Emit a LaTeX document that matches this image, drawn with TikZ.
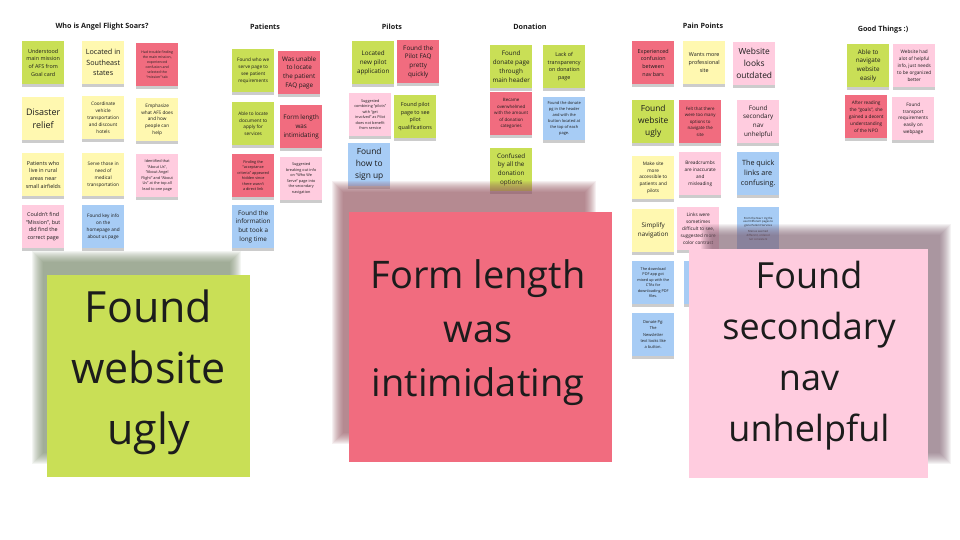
\documentclass[tikz,border=0pt]{standalone}
\usepackage{fontspec}
\setmainfont{Open Sans}
\usetikzlibrary{shadows}

\definecolor{ink}{HTML}{1C1C1C}
\definecolor{notegreen}{HTML}{C9DF56}
\definecolor{noteyellow}{HTML}{FFF8B0}
\definecolor{notered}{HTML}{F16C7F}
\definecolor{notepink}{HTML}{FFCCDF}
\definecolor{noteblue}{HTML}{A7CCF5}
\definecolor{greenshade}{HTML}{6F8160}
\definecolor{redshade}{HTML}{8E4A57}
\definecolor{pinkshade}{HTML}{7E5C6C}

\begin{document}
\begin{tikzpicture}[x=1pt, y=-1pt,
    note/.style={anchor=north west, minimum width=42pt, minimum height=43pt, inner sep=1pt, align=center, text=ink,
      drop shadow={shadow xshift=0pt, shadow yshift=-2.5pt, fill=black, opacity=0.2}},
    green note/.style={note, fill=notegreen},
    yellow note/.style={note, fill=noteyellow},
    red note/.style={note, fill=notered},
    pink note/.style={note, fill=notepink},
    blue note/.style={note, fill=noteblue},
    micro text/.style={font=\fontsize{2.8}{3.9}\selectfont},
    tiny text/.style={font=\fontsize{3.8}{5.5}\selectfont},
    smaller text/.style={font=\fontsize{4.7}{6.8}\selectfont},
    small text/.style={font=\fontsize{5.4}{7.6}\selectfont},
    mid text/.style={font=\fontsize{6.3}{8.8}\selectfont},
    large text/.style={font=\fontsize{7.2}{10.4}\selectfont},
    huge text/.style={font=\fontsize{8.4}{12}\selectfont},
    heading/.style={font=\fontsize{7.2}{9}\selectfont\bfseries, text=ink},
    big note/.style={anchor=north west, inner sep=0pt},
    big text/.style={align=center, text=ink, inner sep=0pt}]
    \useasboundingbox[fill=white] (0, 0) rectangle (960, 540);

    % headings
    \node[heading] (who heading) at (102, 27) {Who is Angel Flight Soars?};
    \node[heading] (patients heading) at (265, 27) {Patients};
    \node[heading] (pilots heading) at (392, 27) {Pilots};
    \node[heading] (donation heading) at (530, 27) {Donation};
    \node[heading] (pain heading) at (703, 26) {Pain Points};
    \node[heading] (good heading) at (883, 30) {Good Things :)};

    % who is angel flight soars
    \node[green note, small text] (main mission) at (22, 41) {Understood \\ main mission \\ of AFS from \\ Goal card};
    \node[yellow note, large text] (southeast) at (82, 41) {Located in \\ Southeast \\ states};
    \node[red note, micro text, font=\fontsize{3.5}{5}\selectfont] (mission tab) at (136, 43) {Had trouble finding \\ the main mission, \\ experienced \\ confusion and \\ selected the \\ ``mission'' tab};
    \node[yellow note, huge text, font=\fontsize{9}{12.3}\selectfont] (disaster relief) at (22, 97) {Disaster \\ relief};
    \node[yellow note, smaller text] (coordinate) at (82, 96) {Coordinate \\ vehicle \\ transportation \\ and discount \\ hotels};
    \node[yellow note, smaller text] (emphasize) at (136, 98) {Emphasize \\ what AFS does \\ and how \\ people can \\ help};
    \node[yellow note, small text] (rural areas) at (22, 153) {Patients who \\ live in rural \\ areas near \\ small airfields};
    \node[yellow note, smaller text] (serve those) at (82, 153) {Serve those in \\ need of \\ medical \\ transportation};
    \node[pink note, tiny text] (about us) at (136, 154) {Identified that \\ ``About Us'', \\ ``About Angel \\ Flight'' and ``About \\ Us'' at the top all \\ lead to one page};
    \node[pink note, small text] (couldnt find) at (22, 205) {Couldn't find \\ ``Mission'', but \\ did find the \\ correct page};
    \node[blue note, smaller text] (key info) at (82, 205) {Found key info \\ on the \\ homepage and \\ about us page};

    % patients
    \node[green note, smaller text] (who we serve) at (232, 49) {Found who we \\ serve page to \\ see patient \\ requirements};
    \node[red note, mid text] (patient faq) at (278, 51) {Was unable \\ to locate \\ the patient \\ FAQ page};
    \node[green note, smaller text] (apply document) at (232, 102) {Able to locate \\ document to \\ apply for \\ services};
    \node[red note, mid text] (form length) at (280, 105) {Form length \\ was \\ intimidating};
    \node[red note, tiny text] (acceptance) at (232, 154) {Finding the \\ ``acceptance \\ criteria'' appeared \\ hidden since \\ there wasn't \\ a direct link};
    \node[pink note, tiny text] (breaking out) at (280, 157) {Suggested \\ breaking out info \\ on ``Who We \\ Serve'' page into \\ the secondary \\ navigation};
    \node[blue note, mid text] (long time) at (232, 205) {Found the \\ information \\ but took a \\ long time};

    % pilots
    \node[green note, mid text] (pilot application) at (352, 41) {Located \\ new pilot \\ application};
    \node[red note, mid text] (pilot faq) at (397, 40) {Found the \\ Pilot FAQ \\ pretty \\ quickly};
    \node[pink note, tiny text] (combining) at (349, 93) {Suggested \\ combining ``pilots'' \\ with ``get \\ involved'' as Pilot \\ does not benefit \\ from service};
    \node[green note, small text] (qualifications) at (394, 95) {Found pilot \\ page to see \\ pilot \\ qualifications};
    \node[blue note, huge text] (sign up) at (348, 143) {Found \\ how to \\ sign up};

    % donation
    \node[green note, mid text] (main header) at (490, 45) {Found \\ donate page \\ through \\ main header};
    \node[green note, small text] (transparency) at (543, 45) {Lack of \\ transparency \\ on donation \\ page};
    \node[red note, smaller text, font=\fontsize{4.4}{6.6}\selectfont] (overwhelmed) at (490, 92) {Became \\ overwhelmed \\ with the amount \\ of donation \\ categories};
    \node[blue note, tiny text, font=\fontsize{4}{5.9}\selectfont] (donate button) at (543, 97) {Found the donate \\ pg in the header \\ and with the \\ button located at \\ the top of each \\ page.};
    \node[green note, mid text] (donation options) at (490, 148) {Confused \\ by all the \\ donation \\ options};

    % pain points
    \node[red note, small text] (nav bars) at (632, 41) {Experienced \\ confusion \\ between \\ nav bars};
    \node[yellow note, small text] (professional) at (683, 41) {Wants more \\ professional \\ site};
    \node[pink note, huge text] (outdated) at (733, 42) {Website \\ looks \\ outdated};
    \node[green note, huge text] (ugly small) at (632, 100) {Found \\ website \\ ugly};
    \node[red note, smaller text, font=\fontsize{4.4}{6.6}\selectfont] (too many) at (679, 100) {Felt that there \\ were too many \\ options to \\ navigate the \\ site};
    \node[pink note, mid text] (secondary small) at (737, 100) {Found \\ secondary \\ nav \\ unhelpful};
    \node[yellow note, smaller text] (accessible) at (632, 156) {Make site \\ more \\ accessible to \\ patients and \\ pilots};
    \node[pink note, smaller text] (breadcrumbs) at (679, 152) {Breadcrumbs \\ are inaccurate \\ and \\ misleading};
    \node[blue note, large text] (quick links) at (737, 152) {The quick \\ links are \\ confusing.};
    \node[yellow note, mid text] (simplify) at (632, 209) {Simplify \\ navigation};
    \node[pink note, smaller text] (contrast) at (677, 207) {Links were \\ sometimes \\ difficult to see, \\ suggested more \\ color contrast};
    \node[blue note, micro text] (nav pages) at (737, 207) {From the Nav / Ug the \\ user Different pages to \\ gone Patient Services \\[2pt] Menus seemed \\ different, ordered \\ not consistent};
    \node[blue note, tiny text] (download pdf) at (632, 261) {The download \\ PDF app got \\ mixed up with the \\ CTAs for \\ downloading PDF \\ files.};
    \node[blue note] (hidden note) at (684, 261) {};
    \node[blue note, tiny text, font=\fontsize{4}{6.2}\selectfont] (newsletter) at (632, 313) {Donate Pg: \\ The \\ Newsletter \\ text looks like \\ a button.};

    % good things
    \node[green note, mid text] (navigate easily) at (847, 44) {Able to \\ navigate \\ website \\ easily};
    \node[pink note, smaller text] (helpful info) at (893, 44) {Website had \\ alot of helpful \\ info, just needs \\ to be organized \\ better};
    \node[red note, smaller text] (goals) at (845, 95) {After reading \\ the ``goals'', she \\ gained a decent \\ understanding \\ of the NPO};
    \node[pink note, smaller text] (transport) at (892, 97) {Found \\ transport \\ requirements \\ easily on \\ webpage};

    % soft shadows of the enlarged notes
    \foreach \k in {0, ..., 11} {
      \fill[greenshade, opacity=0.08] ({32+\k}, {251+\k}) rectangle ({241-\k}, {464-\k});
      \fill[redshade, opacity=0.08] ({332+\k}, {181+\k}) rectangle ({596-\k}, {444-\k});
      \fill[pinkshade, opacity=0.08] ({701+\k}, {224+\k}) rectangle ({951-\k}, {464-\k});
    }

    % enlarged notes
    \node[big note, fill=notegreen, minimum width=203pt, minimum height=202pt] (big ugly) at (47, 275) {};
    \node[big text, font=\fontsize{43}{61}\selectfont] (big ugly text) at (148.5, 372) {Found \\ website \\ ugly};
    \node[big note, fill=notered, minimum width=263pt, minimum height=250pt] (big form length) at (349, 212) {};
    \node[big text, font=\fontsize{38}{54}\selectfont] (big form length text) at (478, 333) {Form length \\ was \\ intimidating};
    \node[big note, fill=notepink, minimum width=239pt, minimum height=229pt] (big secondary) at (689, 249) {};
    \node[big text, font=\fontsize{36}{51}\selectfont] (big secondary text) at (809, 356) {Found \\ secondary \\ nav \\ unhelpful};
\end{tikzpicture}
\end{document}
